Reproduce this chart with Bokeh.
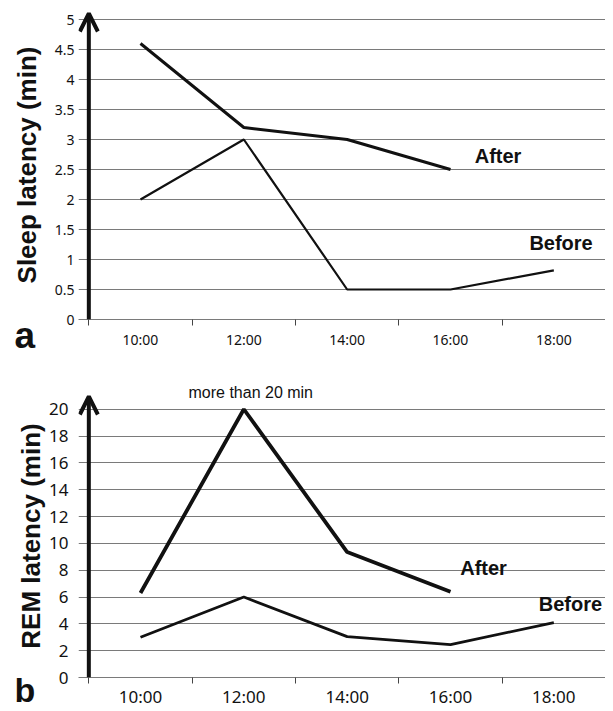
from bokeh.plotting import figure
from bokeh.layouts import column
from bokeh.models import FixedTicker, Arrow, OpenHead, Label, Range1d, Title
from bokeh.embed import file_html
from bokeh.resources import INLINE

times = ["10:00", "12:00", "14:00", "16:00", "18:00"]
sleep_after = [4.6, 3.2, 3.0, 2.5]
sleep_before = [2.0, 3.0, 0.5, 0.5, 0.82]
rem_after = [6.3, 20.0, 9.35, 6.4]
rem_before = [3.0, 6.0, 3.05, 2.45, 4.1]
sleep_ticks = [0, 0.5, 1, 1.5, 2, 2.5, 3, 3.5, 4, 4.5, 5]
rem_ticks = [0, 2, 4, 6, 8, 10, 12, 14, 16, 18, 20]

xpos = [i + 0.5 for i in range(len(times))]
GRID = "#7a7a7a"
INK = "#111111"


def make_fig(frame_h, border_top, border_bottom, ymax, ticks, tick_fmt,
             ylabel, tick_size, label_size, label_standoff, ylab_standoff, xlab_standoff):
    p = figure(frame_width=527, frame_height=frame_h, output_backend="svg",
               toolbar_location=None,
               x_range=Range1d(-0.1, 5), y_range=Range1d(0, ymax),
               min_border_left=78, min_border_right=0,
               min_border_top=border_top, min_border_bottom=border_bottom)
    p.outline_line_color = None
    p.xgrid.visible = False
    p.ygrid.ticker = FixedTicker(ticks=ticks)
    p.ygrid.grid_line_color = GRID
    p.ygrid.grid_line_width = 1
    # x axis
    p.xaxis.ticker = FixedTicker(ticks=xpos, minor_ticks=[0, 1, 2, 3, 4, 5])
    p.xaxis.major_label_overrides = {x: t for x, t in zip(xpos, times)}
    p.xaxis.major_tick_out = 0
    p.xaxis.major_tick_in = 0
    p.xaxis.minor_tick_out = 6
    p.xaxis.minor_tick_in = 0
    p.xaxis.minor_tick_line_color = "#444444"
    p.xaxis.axis_line_color = GRID
    p.xaxis.major_label_text_font = "Noto Sans"
    p.xaxis.major_label_text_font_size = tick_size
    p.xaxis.major_label_text_color = INK
    p.xaxis.major_label_standoff = xlab_standoff
    # y axis
    p.yaxis.ticker = FixedTicker(ticks=ticks)
    p.yaxis.major_label_overrides = {t: tick_fmt(t) for t in ticks}
    p.yaxis.axis_line_color = None
    p.yaxis.major_tick_out = 0
    p.yaxis.major_tick_in = 0
    p.yaxis.minor_tick_line_color = None
    p.yaxis.major_label_text_font = "Noto Sans"
    p.yaxis.major_label_text_font_size = tick_size
    p.yaxis.major_label_text_color = INK
    p.yaxis.major_label_standoff = ylab_standoff
    p.yaxis.axis_label = ylabel
    p.yaxis.axis_label_text_font = "Liberation Sans"
    p.yaxis.axis_label_text_font_style = "bold"
    p.yaxis.axis_label_text_font_size = label_size
    p.yaxis.axis_label_text_color = INK
    p.yaxis.axis_label_standoff = label_standoff
    return p


def fmt_sleep(t):
    return str(int(t)) if float(t).is_integer() else str(t)


def fmt_rem(t):
    return str(int(t))


def panel_letter(p, letter, size, standoff):
    p.add_layout(Title(text=letter, align="left", offset=-64, standoff=standoff,
                       vertical_align="top",
                       text_font="Liberation Sans", text_font_style="bold",
                       text_font_size=size, text_color=INK), "below")


# ---- panel a ----
p1 = make_fig(309, 10, 37, 5.15, sleep_ticks, fmt_sleep, "Sleep latency (min)",
              "14px", "26px", 10, 4, 4)
p1.line(xpos[:len(sleep_after)], sleep_after, line_color=INK, line_width=3)
p1.line(xpos, sleep_before, line_color=INK, line_width=2.2)
p1.add_layout(Arrow(x_start=0, y_start=0, x_end=0, y_end=5.1, line_width=4,
                    line_color=INK,
                    end=OpenHead(size=18, line_width=4, line_color=INK)))
for txt, x, y in [("After", 3.96, 2.73), ("Before", 4.57, 1.27)]:
    p1.add_layout(Label(x=x, y=y, text=txt, text_align="center", text_baseline="middle",
                        text_font="Liberation Sans", text_font_style="bold",
                        text_font_size="20px", text_color=INK))
panel_letter(p1, "a", "37px", -74)

# ---- panel b ----
p2 = make_fig(283, 38, 32, 21.1, rem_ticks, fmt_rem, "REM latency (min)",
              "17px", "26px", 0, 10, 1)
p2.line(xpos[:len(rem_after)], rem_after, line_color=INK, line_width=3.8)
p2.line(xpos, rem_before, line_color=INK, line_width=2.8)
p2.add_layout(Arrow(x_start=0, y_start=0, x_end=0, y_end=20.95, line_width=4,
                    line_color=INK,
                    end=OpenHead(size=18, line_width=4, line_color=INK)))
for txt, x, y in [("After", 3.82, 8.2), ("Before", 4.66, 5.45)]:
    p2.add_layout(Label(x=x, y=y, text=txt, text_align="center", text_baseline="middle",
                        text_font="Liberation Sans", text_font_style="bold",
                        text_font_size="20px", text_color=INK))
p2.add_layout(Title(text="more than 20 min", align="left", offset=110, standoff=-13,
                    text_font="Liberation Sans", text_font_style="normal",
                    text_font_size="16px", text_color=INK), "above")
panel_letter(p2, "b", "34px", -79)

layout = column(p1, p2, spacing=0)
open("out.html", "w").write(file_html(layout, INLINE))
